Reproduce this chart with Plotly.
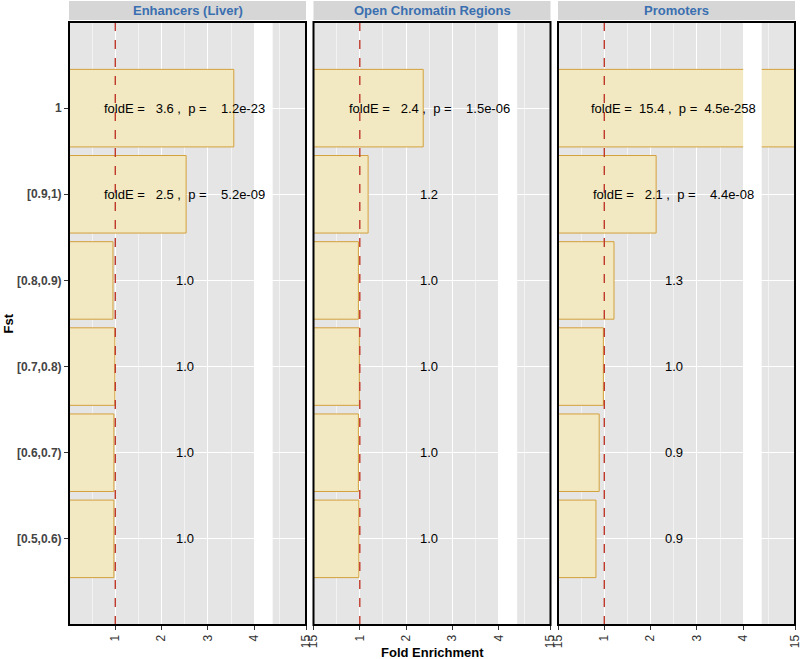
import plotly.graph_objects as go

# ---------------- data ----------------
categories = ["1", "[0.9,1)", "[0.8,0.9)", "[0.7,0.8)", "[0.6,0.7)", "[0.5,0.6)"]
panels = ["Enhancers (Liver)", "Open Chromatin Regions", "Promoters"]

fold_enh = [3.56, 2.53, 0.95, 0.99, 0.97, 0.97]
fold_ocr = [2.37, 1.18, 0.97, 0.99, 0.97, 0.98]
fold_prom = [15.4, 2.12, 1.21, 0.98, 0.89, 0.82]

labels_enh = ["foldE =   3.6 ,  p =    1.2e-23", "foldE =   2.5 ,  p =    5.2e-09",
              "1.0", "1.0", "1.0", "1.0"]
labels_ocr = ["foldE =   2.4 ,  p =    1.5e-06", "1.2", "1.0", "1.0", "1.0", "1.0"]
labels_prom = ["foldE =  15.4 ,  p =  4.5e-258", "foldE =   2.1 ,  p =    4.4e-08",
               "1.3", "1.0", "0.9", "0.9"]

tick_vals = [1, 2, 3, 4, 15]
tick_text = ["1", "2", "3", "4", "15"]
ref_line = 1

# ---------------- broken axis mapping ----------------
BREAK_LO = 4.0      # end of lower segment
GAP = 0.4           # display width of gap
SEG_LO = 14.3       # start of upper segment (data)
SEG_HI = 15.0       # end of upper segment (data)
SEG_W = 0.72        # display width of upper segment
X_MAX = BREAK_LO + GAP + SEG_W


def to_disp(v):
    if v <= BREAK_LO:
        return v
    if v < SEG_LO:
        return BREAK_LO
    return BREAK_LO + GAP + (v - SEG_LO) * SEG_W / (SEG_HI - SEG_LO)


FONT = "Liberation Sans, Arial, sans-serif"
PANEL_BG = "#e5e5e5"
STRIP_BG = "#d6d6d6"
BAR_FILL = "#f2e8c1"
BAR_LINE = "#d4a03c"

W, H = 800, 659
ML, MR, MT, MB = 69, 5, 22, 34
PW = W - ML - MR
PH = H - MT - MB

panel_gap = 7.5 / PW
pw = (1 - 2 * panel_gap) / 3
domains = [[i * (pw + panel_gap), i * (pw + panel_gap) + pw] for i in range(3)]
domains[2][1] = 1.0

fig = go.Figure()
folds = [fold_enh, fold_ocr, fold_prom]
labels = [labels_enh, labels_ocr, labels_prom]

shapes = []
annotations = []
for i in range(3):
    xa = "x" if i == 0 else f"x{i+1}"
    ya = "y" if i == 0 else f"y{i+1}"
    fig.add_trace(go.Bar(
        x=[to_disp(v) for v in folds[i]], y=categories, base=0, orientation="h",
        width=0.9, marker=dict(color=BAR_FILL, line=dict(color=BAR_LINE, width=1)),
        xaxis=xa, yaxis=ya, showlegend=False, hoverinfo="skip"))

    tv = [min(to_disp(v), X_MAX) for v in tick_vals]
    tt = list(tick_text)
    if i > 0:
        tv = [0] + tv
        tt = [tick_text[-1]] + tt
    xkey = "xaxis" if i == 0 else f"xaxis{i+1}"
    ykey = "yaxis" if i == 0 else f"yaxis{i+1}"
    fig.layout[xkey] = dict(
        domain=domains[i], anchor=ya, range=[0, X_MAX], tickmode="array",
        tickvals=tv, ticktext=tt, tickangle=-90, ticks="outside", ticklen=4,
        tickcolor="#333333", tickfont=dict(family=FONT, size=12, color="#333333"),
        ticklabeloverflow="allow",
        showgrid=True, gridcolor="#ffffff", gridwidth=1, zeroline=False,
        showline=False, fixedrange=True, automargin=False,
        minor=dict(tickvals=[0.5, 1.5, 2.5, 3.5, 4.55], showgrid=True,
                   gridcolor="#f3f3f3", gridwidth=0.6, ticks=""))
    fig.layout[ykey] = dict(
        domain=[0, 1], anchor=xa, type="category", categoryorder="array",
        categoryarray=categories, range=[len(categories), -1],
        showticklabels=(i == 0), ticks="outside" if i == 0 else "", ticklen=4,
        tickcolor="#333333",
        tickfont=dict(family=FONT, size=12, color="#444444", weight="bold"),
        showgrid=True, gridcolor="#ffffff", gridwidth=1, zeroline=False,
        showline=False, fixedrange=True, automargin=False)
    if i > 0:
        fig.layout[ykey].matches = "y"

    # reference dashed line
    shapes.append(dict(type="line", xref=xa, yref=f"{ya} domain", x0=ref_line, x1=ref_line,
                       y0=0, y1=1, line=dict(color="#c0392b", width=1.4, dash="dash"),
                       layer="above"))
    # gap of the broken axis
    shapes.append(dict(type="rect", xref=xa, yref=f"{ya} domain", x0=BREAK_LO,
                       x1=BREAK_LO + GAP, y0=0, y1=1, fillcolor="#ffffff",
                       line=dict(width=0), layer="above"))
    # panel border
    shapes.append(dict(type="rect", xref=f"{xa} domain", yref=f"{ya} domain",
                       x0=0, x1=1, y0=0, y1=1, line=dict(color="#000000", width=2),
                       fillcolor="rgba(0,0,0,0)", layer="above"))
    # strip
    shapes.append(dict(type="rect", xref=f"{xa} domain", yref="paper",
                       x0=0, x1=1, y0=1 + 2 / PH, y1=1 + 21 / PH, fillcolor=STRIP_BG,
                       line=dict(width=0), layer="above"))
    annotations.append(dict(xref=f"{xa} domain", yref="paper", x=0.5, y=1 + 11.5 / PH,
                            text=f"<b>{panels[i]}</b>", showarrow=False,
                            font=dict(family=FONT, size=13, color="#3a6fb0"),
                            xanchor="center", yanchor="middle"))
    for k, lab in enumerate(labels[i]):
        annotations.append(dict(xref=xa, yref=ya, x=2.5, y=k,
                                text=lab.replace(" ", "\u00a0"), showarrow=False,
                                font=dict(family=FONT, size=13, color="#000000"),
                                xanchor="center", yanchor="middle"))

annotations.append(dict(xref="paper", yref="paper", x=0.5, y=-27 / PH,
                        text="<b>Fold Enrichment</b>", showarrow=False,
                        font=dict(family=FONT, size=13, color="#000000"),
                        xanchor="center", yanchor="middle"))
annotations.append(dict(xref="paper", yref="paper", x=-61 / PW, y=0.5,
                        text="<b>Fst</b>", showarrow=False, textangle=-90,
                        font=dict(family=FONT, size=13, color="#000000"),
                        xanchor="center", yanchor="middle"))

fig.update_layout(
    width=W, height=H, margin=dict(l=ML, r=MR, t=MT, b=MB),
    paper_bgcolor="#ffffff", plot_bgcolor=PANEL_BG,
    shapes=shapes, annotations=annotations, bargap=0.1, showlegend=False,
    font=dict(family=FONT))

fig.write_html("out.html", config={"displayModeBar": False},
               post_script="document.body.style.margin='0px';"
                           "document.body.style.overflow='hidden';")
